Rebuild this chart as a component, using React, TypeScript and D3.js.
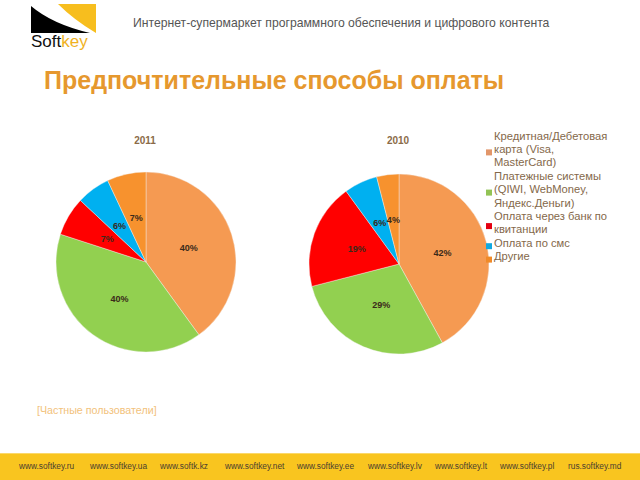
import React from "react";
import * as d3 from "d3";

const categories = [
  "Кредитная/Дебетовая карта (Visa, MasterCard)",
  "Платежные системы (QIWI, WebMoney, Яндекс.Деньги)",
  "Оплата через банк по квитанции",
  "Оплата по смс",
  "Другие",
];
const legendLines = [
  ["Кредитная/Дебетовая", "карта (Visa,", "MasterCard)"],
  ["Платежные системы", "(QIWI, WebMoney,", "Яндекс.Деньги)"],
  ["Оплата через банк по", "квитанции"],
  ["Оплата по смс"],
  ["Другие"],
];
const values2011 = [40, 40, 7, 6, 7];
const values2010 = [42, 29, 19, 6, 4];
const years = ["2011", "2010"];
const sliceColors = ["#F59A52", "#92D050", "#FF0000", "#00B0F0", "#F7922E"];
const legendColors = ["#E2966A", "#92C355", "#E40010", "#10A8E0", "#F08A28"];
const footerSites = [
  "www.softkey.ru",
  "www.softkey.ua",
  "www.softk.kz",
  "www.softkey.net",
  "www.softkey.ee",
  "www.softkey.lv",
  "www.softkey.lt",
  "www.softkey.pl",
  "rus.softkey.md",
];
const footerX = [19, 90, 160, 225, 297, 368, 435, 500, 568];

const FONT = "'Liberation Sans', Arial, sans-serif";

function Pie({ values, cx, cy, title }: { values: number[]; cx: number; cy: number; title: string }) {
  const R = 90;
  const pie = d3.pie<number>().sort(null).value((d) => d)(values);
  const arc = d3.arc<d3.PieArcDatum<number>>().innerRadius(0).outerRadius(R);
  const labelArc = d3.arc<d3.PieArcDatum<number>>().innerRadius(45).outerRadius(45);
  return (
    <g>
      <text x={cx - 1} y={143.5} textAnchor="middle" fontFamily={FONT} fontSize={10} fontWeight="bold" fill="#8B6B47">
        {title}
      </text>
      <g transform={`translate(${cx},${cy})`}>
        {pie.map((p, i) => (
          <path key={i} d={arc(p) || ""} fill={sliceColors[i]} stroke="#f4f4f4" strokeWidth={0.4} />
        ))}
        {pie.map((p, i) => {
          const [x, y] = labelArc.centroid(p);
          return (
            <text key={"l" + i} x={x} y={y + 3.2} textAnchor="middle" fontFamily={FONT} fontSize={9} fontWeight="bold" fill="#3a2a1a">
              {values[i]}%
            </text>
          );
        })}
      </g>
    </g>
  );
}

export default function App() {
  const lineH = 13.4;
  let ly = 139.5;
  const legendItems = legendLines.map((lines, i) => {
    const startY = ly;
    ly += lines.length * lineH;
    const midY = startY + ((lines.length - 1) * lineH) / 2 - 3.5;
    return { lines, startY, midY, color: legendColors[i], key: categories[i] };
  });

  return (
    <svg width={640} height={480} style={{ position: "absolute", left: 0, top: 0 }}>
      <rect x={0} y={0} width={640} height={480} fill="#ffffff" />
      {/* logo */}
      <rect x={31} y={4} width={65} height={29} fill="#F7BE1E" />
      <path d="M31,4 L58,4 Q74,20 96,33 L31,33 Z" fill="#ffffff" />
      <path d="M31,6 Q52,24 90,33 L31,33 Z" fill="#000000" />
      <text x={31} y={47} fontFamily={FONT} fontSize={17} fill="#111">
        Soft<tspan fill="#F0B21E">key</tspan>
      </text>
      {/* header */}
      <text x={133} y={27} fontFamily={FONT} fontSize={12.2} fill="#555">
        Интернет-супермаркет программного обеспечения и цифрового контента
      </text>
      <text x={44} y={89} fontFamily={FONT} fontSize={25} fontWeight="bold" fill="#E6982E">
        Предпочтительные способы оплаты
      </text>

      <Pie values={values2011} cx={146} cy={262} title={years[0]} />
      <Pie values={values2010} cx={399} cy={264} title={years[1]} />

      {/* legend */}
      {legendItems.map((it, i) => (
        <g key={i}>
          <rect x={486} y={it.midY} width={6} height={6} fill={it.color} />
          {it.lines.map((t, j) => (
            <text key={j} x={494} y={it.startY + j * lineH} fontFamily={FONT} fontSize={11.2} fill="#84684A">
              {t}
            </text>
          ))}
        </g>
      ))}

      <text x={37} y={414} fontFamily={FONT} fontSize={10.7} fill="#F2C27C">
        [Частные пользователи]
      </text>

      {/* footer */}
      <rect x={0} y={453} width={640} height={27} fill="#F9C51F" />
      <rect x={0} y={453} width={640} height={1} fill="#FBD86A" />
      {footerSites.map((s, i) => (
        <text key={s} x={footerX[i]} y={469} fontFamily={FONT} fontSize={8.3} fill="#4A4030">
          {s}
        </text>
      ))}
    </svg>
  );
}
